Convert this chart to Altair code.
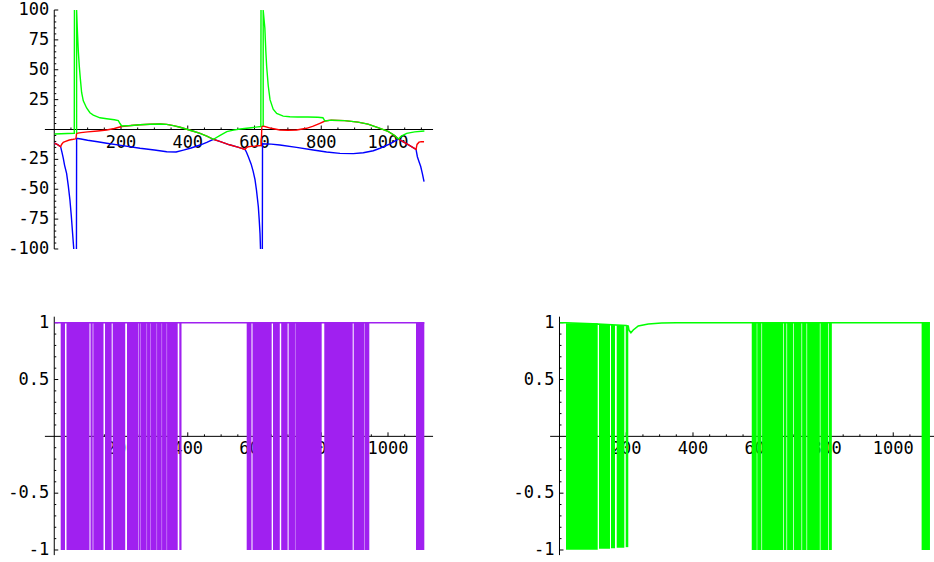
import altair as alt
import pandas as pd

FONT = "DejaVu Sans Mono"
FS = 17

# ---------------- top panel: three curves (x, y, segment id) ----------------
blue_x = [1, 10, 19, 23, 27, 31, 37, 42, 47, 51, 55, 58.5,
          66.5, 67, 80, 100, 130, 157, 200, 257, 300, 337, 365, 387, 410, 437, 457, 477,
          500, 525, 550, 571.5, 576, 581.5, 590, 596, 601.5, 606, 611.5, 614, 616.5, 618,
          623.5, 624, 650, 676, 726, 776, 816, 856, 896, 926, 956, 976, 1006, 1031, 1058,
          1084, 1088, 1093, 1098, 1103, 1108]
blue_y = [-11.5, -12.6, -14.4, -19, -24, -30, -36.7, -47, -59, -72, -87, -100,
          -100, -7.4, -8, -9, -10.3, -11.5, -13.3, -15.7, -17.2, -18.6, -18.8, -17.2, -15.5, -13, -10.8, -8.2,
          -10.4, -12.8, -14.8, -16.6, -19, -22.8, -29, -35, -42, -51, -64.6, -75, -86.9, -100,
          -100, -12, -12.2, -13, -15, -17.2, -18.8, -20, -20.2, -19.4, -17.8, -15.7, -12, -8, -12.3,
          -16.6, -22.8, -27, -31, -37, -43.7]
blue_seg = [0] * 12 + [1] * 30 + [2] * 21

red_x = [1, 10, 19, 22, 27, 32, 45, 57, 63, 65, 67, 80, 100, 130, 157, 180, 202, 230, 257, 287,
         317, 337, 357, 377, 397, 417, 437, 457, 477, 500, 525, 550, 571.5, 576, 582, 590, 600, 610,
         620, 622, 626, 650, 676, 700, 726, 756, 776, 796, 811, 830, 870, 910, 940, 970, 1000, 1020,
         1031, 1058, 1084, 1087, 1093, 1100, 1108]
red_y = [-11.5, -12.6, -14.4, -12.5, -10.8, -10.2, -8.8, -8.2, -7.8, -7.6, -3.2, -2.6, -2.0, -1.2,
         -0.4, 0.8, 2.5, 3.4, 4.0, 4.4, 4.6, 4.3, 3.2, 1.9, 0.2, -1.5, -3.2, -5.5, -8.2, -10.4, -12.8,
         -14.8, -16.6, -15.2, -14.4, -14.1, -13.9, -13.6, -13.4, 2.5, 2.9, 1.0, -0.4, -0.6, -0.4, 1.0,
         2.8, 5.2, 7.1, 7.8, 7.4, 6.2, 4.5, 1.5, -1.5, -5, -8, -12.3, -16.6, -12.5, -10.6, -10.2, -10.2]
red_seg = [0] * 63

green_x = [1, 20, 40, 60, 60.5,
           67, 67, 69, 72, 75, 78, 82, 87, 97, 107, 117, 137, 157, 180, 192, 197, 202, 230, 257, 287,
           317, 337, 357, 377, 397, 417, 437, 457, 477, 497, 517, 537, 557, 590, 610, 619, 619.5,
           626, 626, 631, 634, 636.5, 641, 646.5, 656, 666.5, 686, 706, 730, 760, 790, 805, 808, 811,
           830, 870, 910, 940, 970, 1000, 1020, 1031, 1040, 1056, 1080, 1109]
green_y = [-3.8, -3.5, -3.3, -3.2, 100,
           -3.2, 100, 85, 66, 53, 43, 31, 24, 18, 14, 12, 9.8, 9, 8.2, 7.4, 5, 3.0, 3.4, 4.0, 4.4,
           4.6, 4.3, 3.2, 1.9, 0.2, -1.5, -3.2, -5.5, -8.2, -5, -1.8, -0.5, 0.4, 1.5, 2.2, 2.5, 100,
           2.9, 100, 85, 65, 52.5, 37, 25, 17, 13.5, 11.2, 10.7, 10.5, 10.5, 10.2, 9.8, 8.5, 7.1,
           7.8, 7.4, 6.2, 4.5, 1.5, -1.5, -5, -8, -5.5, -3.2, -2, -1.3]
green_seg = [0] * 5 + [1] * 37 + [2] * 29

# ---------------- bottom-left: purple dense oscillation ----------------
purple_start = [19.3, 36.7, 108.6, 117.0, 152.1, 175.1, 218.0, 252.8, 257.9, 278.0, 287.9, 308.0,
                323.0, 338.0, 374.7, 576.6, 594.0, 655.4, 680.0, 702.2, 722.3, 809.1, 897.2, 930.6,
                1083.9]
purple_end = [32.2, 105.6, 115.2, 147.6, 172.1, 212.6, 251.8, 256.9, 277.0, 286.9, 307.0, 322.0,
              337.0, 369.9, 381.3, 591.0, 651.5, 675.8, 699.2, 721.3, 801.3, 894.2, 929.6, 944.0,
              1108.8]
purple_line_x = [1, 1109]
purple_line_y = [1, 1]

# ---------------- bottom-right: green dense oscillation ----------------
gband_start = [19.5, 118.4, 154.3, 171.4, 198.4, 576, 592.5, 607, 672, 682, 702, 727, 742, 782, 807, 1085]
gband_end = [114.5, 151.3, 166.3, 194.2, 206.1, 591, 605, 670, 680, 700, 725, 740, 780, 805, 816, 1110]
gband_top = [0.995, 0.985, 0.98, 0.978, 0.975, 1, 1, 1, 1, 1, 1, 1, 1, 1, 1, 1]
gband_bottom = [-0.997, -0.99, -0.985, -0.98, -0.975, -1, -1, -1, -1, -1, -1, -1, -1, -1, -1, -1]
gline_x = [1, 20, 100, 200, 206, 208, 214, 221, 236, 266, 306, 350, 1110]
gline_y = [1.0, 1.0, 0.99, 0.975, 0.97, 0.935, 0.912, 0.936, 0.971, 0.989, 0.998, 1.0, 1.0]

# ---------------- ticks ----------------
x_major = [200, 400, 600, 800, 1000]
x_labels = ["200", "400", "600", "800", "1000"]
x_minor = [v for v in range(50, 1101, 50) if v % 200 != 0]
top_y_major = [-100, -75, -50, -25, 25, 50, 75, 100]
top_y_labels = ["-100", "-75", "-50", "-25", "25", "50", "75", "100"]
top_y_minor = [v for v in range(-95, 96, 5) if v % 25 != 0]
bot_y_major = [-1, -0.5, 0.5, 1]
bot_y_labels = ["-1", "-0.5", "0.5", "1"]
bot_y_minor = [round(v / 10, 1) for v in range(-9, 10) if v % 5 != 0]

# plot ranges of the axes lines
X_AXIS = [-28, 1135]
TOP_Y_AXIS = [-100, 100]
BOT_Y_AXIS = [-1.045, 1.053]

W, H = 467, 281


def axes_layers(xs, ys, y_axis_range, ymaj, ylab, ymin):
    X = lambda f: alt.X(f, scale=xs, axis=None)
    Y = lambda f: alt.Y(f, scale=ys, axis=None)
    xline = alt.Chart(pd.DataFrame({"a": [X_AXIS[0]], "b": [X_AXIS[1]], "y": [0]})).mark_rule(
        color="black", strokeWidth=1, clip=True).encode(x=X("a:Q"), x2="b:Q", y=Y("y:Q"))
    yline = alt.Chart(pd.DataFrame({"x": [0], "a": [y_axis_range[0]], "b": [y_axis_range[1]]})).mark_rule(
        color="black", strokeWidth=1).encode(x=X("x:Q"), y=Y("a:Q"), y2="b:Q")
    xmaj = alt.Chart(pd.DataFrame({"x": x_major, "y": [0] * len(x_major)})).mark_rule(
        color="black", y2Offset=-4, clip=True).encode(x=X("x:Q"), y=Y("y:Q"), y2="y:Q")
    xmin = alt.Chart(pd.DataFrame({"x": x_minor, "y": [0] * len(x_minor)})).mark_rule(
        color="black", y2Offset=-2, clip=True).encode(x=X("x:Q"), y=Y("y:Q"), y2="y:Q")
    ymj = alt.Chart(pd.DataFrame({"x": [0] * len(ymaj), "y": ymaj})).mark_rule(
        color="black", x2Offset=4).encode(x=X("x:Q"), x2="x:Q", y=Y("y:Q"))
    ymn = alt.Chart(pd.DataFrame({"x": [0] * len(ymin), "y": ymin})).mark_rule(
        color="black", x2Offset=2).encode(x=X("x:Q"), x2="x:Q", y=Y("y:Q"))
    xt = alt.Chart(pd.DataFrame({"x": x_major, "y": [0] * len(x_major), "t": x_labels})).mark_text(
        font=FONT, fontSize=FS, align="center", baseline="top", dy=5, color="black").encode(
        x=X("x:Q"), y=Y("y:Q"), text="t:N")
    yt = alt.Chart(pd.DataFrame({"x": [0] * len(ymaj), "y": ymaj, "t": ylab})).mark_text(
        font=FONT, fontSize=FS, align="right", baseline="middle", dx=-5, color="black").encode(
        x=X("x:Q"), y=Y("y:Q"), text="t:N")
    return [xline, yline, xmaj, xmin, ymj, ymn, xt, yt]


def curve(xs, ys, xv, yv, seg, color, sw=1.4):
    df = pd.DataFrame({"x": xv, "y": yv, "seg": seg, "i": list(range(len(xv)))})
    return alt.Chart(df).mark_line(color=color, strokeWidth=sw).encode(
        x=alt.X("x:Q", scale=xs, axis=None), y=alt.Y("y:Q", scale=ys, axis=None),
        detail="seg:N", order="i:Q")


# ---------------- top panel ----------------
xs_left = alt.Scale(domain=[-162.55, 1236.7], nice=False, zero=False)
ys_top = alt.Scale(domain=[-126.78, 108.37], nice=False, zero=False)
top = alt.layer(
    *axes_layers(xs_left, ys_top, TOP_Y_AXIS, top_y_major, top_y_labels, top_y_minor),
    curve(xs_left, ys_top, blue_x, blue_y, blue_seg, "#0000ff"),
    curve(xs_left, ys_top, red_x, red_y, red_seg, "#ff0000"),
    curve(xs_left, ys_top, green_x, green_y, green_seg, "#00ff00"),
).properties(width=W, height=H)

# ---------------- bottom-left panel ----------------
ys_bot = alt.Scale(domain=[-1.1056, 1.3669], nice=False, zero=False)
pdf = pd.DataFrame({"a": purple_start, "b": purple_end,
                    "lo": [-1] * len(purple_start), "hi": [1] * len(purple_start)})
pbands = alt.Chart(pdf).mark_rect(color="#a020f0").encode(
    x=alt.X("a:Q", scale=xs_left, axis=None), x2="b:Q",
    y=alt.Y("lo:Q", scale=ys_bot, axis=None), y2="hi:Q")
pline = curve(xs_left, ys_bot, purple_line_x, purple_line_y, [0, 0], "#a020f0", sw=1.6)
bl = alt.layer(
    *axes_layers(xs_left, ys_bot, BOT_Y_AXIS, bot_y_major, bot_y_labels, bot_y_minor),
    pline, pbands,
).properties(width=W, height=H)

# ---------------- bottom-right panel ----------------
xs_right = alt.Scale(domain=[-277.15, 1122.1], nice=False, zero=False)
gdf = pd.DataFrame({"a": gband_start, "b": gband_end, "lo": gband_bottom, "hi": gband_top})
gbands = alt.Chart(gdf).mark_rect(color="#00ff00").encode(
    x=alt.X("a:Q", scale=xs_right, axis=None), x2="b:Q",
    y=alt.Y("lo:Q", scale=ys_bot, axis=None), y2="hi:Q")
gline = curve(xs_right, ys_bot, gline_x, gline_y, [0] * len(gline_x), "#00ff00", sw=1.6)
br = alt.layer(
    *axes_layers(xs_right, ys_bot, BOT_Y_AXIS, bot_y_major, bot_y_labels, bot_y_minor),
    gline, gbands,
).properties(width=W, height=H)

chart = alt.VConcatChart(
    vconcat=[top, alt.HConcatChart(hconcat=[bl, br], spacing=0)],
    spacing=0, padding=0, background="white",
).configure_view(strokeWidth=0)

chart.save("out.html", embed_options={"renderer": "svg", "actions": False})
